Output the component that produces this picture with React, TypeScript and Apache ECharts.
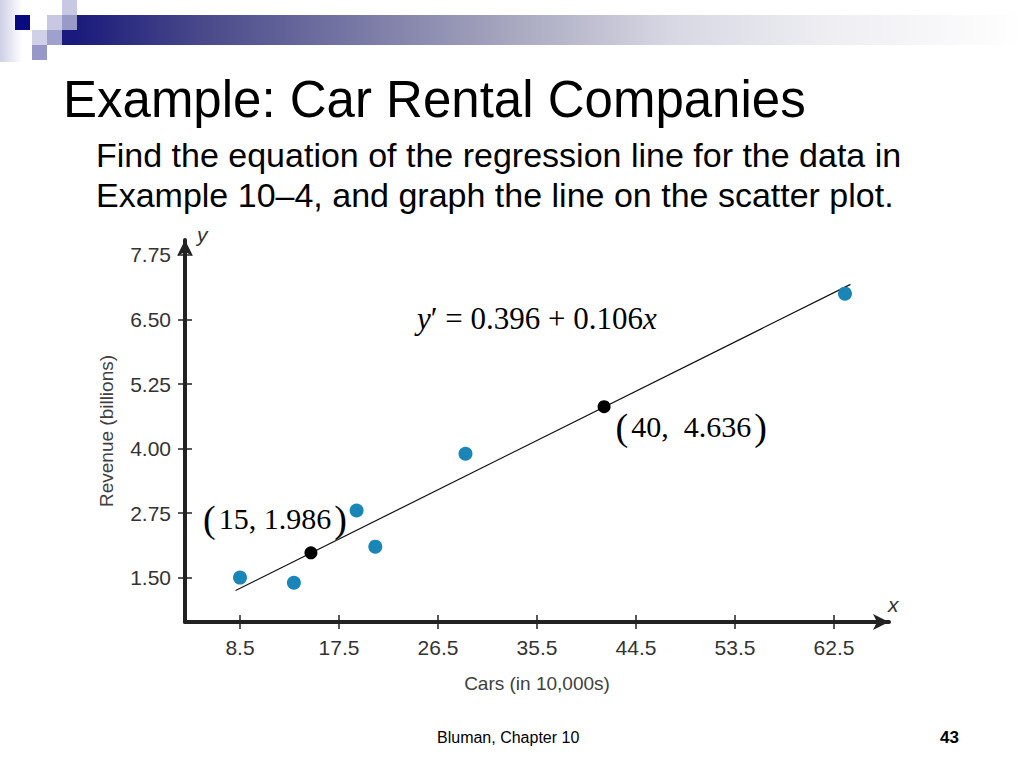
import React, { useEffect, useRef } from "react";
import * as echarts from "echarts";

const cars = [63.5, 29.0, 20.8, 19.1, 13.4, 8.5];
const revenue = [7.0, 3.9, 2.1, 2.8, 1.4, 1.5];
const yTicks = [1.5, 2.75, 4.0, 5.25, 6.5, 7.75];
const xTicks = [8.5, 17.5, 26.5, 35.5, 44.5, 53.5, 62.5];
const lineX = [8.1, 64.0];
const lineY = [1.25, 7.18];
// marked points on the line as drawn, and their printed labels
const keyX = [14.95, 41.6];
const keyY = [1.98, 4.81];
const keyLabels = ["15, 1.986", "40,  4.636"];

const title = "Example: Car Rental Companies";
const subtitle1 = "Find the equation of the regression line for the data in";
const subtitle2 = "Example 10\u20134, and graph the line on the scatter plot.";
const footer = "Bluman, Chapter 10";
const pageNo = "43";

const SANS = "'Liberation Sans', Arial, sans-serif";
const SERIF = "'Liberation Serif', 'Times New Roman', serif";

export default function App() {
  const ref = useRef<HTMLDivElement>(null);
  useEffect(() => {
    if (!ref.current) return;
    const chart = echarts.init(ref.current, null, { renderer: "svg" });
    const axisColor = "#222";
    const tickStyle = { color: axisColor, width: 1.5 };
    const labelStyle = { fontSize: 21, color: "#333", fontFamily: SANS };
    const nameStyle = { fontSize: 19, color: "#404040", fontFamily: SANS };
    const parenRich = {
      p: { fontFamily: SERIF, fontSize: 38, color: "#000" },
      t: { fontFamily: SERIF, fontSize: 30, color: "#000", padding: [0, 3, 0, 3] },
    };
    const keyLabelPos = [
      { position: "inside", offset: [-36, -34] },
      { position: "right", distance: 5, offset: [0, 20] },
    ];

    chart.setOption({
      animation: false,
      backgroundColor: "#fff",
      grid: { left: 185, right: 135, top: 240, bottom: 146, containLabel: false, outerBoundsMode: "none" },
      xAxis: [
        {
          type: "value",
          min: 3.5,
          max: 67.5,
          position: "bottom",
          axisLine: { show: true, onZero: false, lineStyle: { color: axisColor, width: 4 }, symbol: ["none", "arrow"], symbolSize: [12, 16] },
          axisTick: { show: true, customValues: xTicks, length: 7, lineStyle: tickStyle },
          axisLabel: { customValues: xTicks, formatter: (v: number) => v.toFixed(1), margin: 15, ...labelStyle },
          splitLine: { show: false },
          name: "Cars (in 10,000s)",
          nameLocation: "middle",
          nameGap: 52,
          nameTextStyle: nameStyle,
        },
        {
          type: "value",
          min: 3.5,
          max: 67.5,
          position: "bottom",
          axisLine: { show: false, onZero: false },
          axisTick: { show: true, inside: true, customValues: xTicks, length: 7, lineStyle: tickStyle },
          axisLabel: { show: false },
          splitLine: { show: false },
        },
      ],
      yAxis: [
        {
          type: "value",
          min: 0.64,
          max: 8.04,
          position: "left",
          axisLine: { show: true, onZero: false, lineStyle: { color: axisColor, width: 4 }, symbol: ["none", "arrow"], symbolSize: [12, 16] },
          axisTick: { show: true, customValues: yTicks, length: 7, lineStyle: tickStyle },
          axisLabel: { customValues: yTicks, formatter: (v: number) => v.toFixed(2), margin: 14, ...labelStyle },
          splitLine: { show: false },
          name: "Revenue (billions)",
          nameLocation: "middle",
          nameGap: 69,
          nameRotate: 90,
          nameTextStyle: nameStyle,
        },
        {
          type: "value",
          min: 0.64,
          max: 8.04,
          position: "left",
          axisLine: { show: false, onZero: false },
          axisTick: { show: true, inside: true, customValues: yTicks, length: 7, lineStyle: tickStyle },
          axisLabel: { show: false },
          splitLine: { show: false },
        },
      ],
      series: [
        {
          type: "line",
          data: lineX.map((x, i) => [x, lineY[i]]),
          symbol: "none",
          lineStyle: { color: "#111", width: 1.2 },
          z: 2,
        },
        {
          type: "scatter",
          data: cars.map((x, i) => [x, revenue[i]]),
          symbolSize: 14,
          itemStyle: { color: "#1a86b8", opacity: 1 },
          z: 3,
        },
        {
          type: "scatter",
          data: keyX.map((x, i) => ({
            value: [x, keyY[i]],
            label: { show: true, formatter: `{p|(}{t|${keyLabels[i]}}{p|)}`, rich: parenRich, ...keyLabelPos[i] },
          })),
          symbolSize: 13,
          itemStyle: { color: "#000", opacity: 1 },
          z: 4,
        },
      ],
      graphic: [
        {
          type: "rect",
          shape: { x: 0, y: 0, width: 22, height: 62 },
          style: {
            fill: new echarts.graphic.LinearGradient(0, 0, 1, 0, [
              { offset: 0, color: "#cfcfe6" },
              { offset: 1, color: "#ffffff" },
            ]),
          },
          silent: true,
        },
        {
          type: "rect",
          shape: { x: 62, y: 15, width: 962, height: 30 },
          style: {
            fill: new echarts.graphic.LinearGradient(0, 0, 1, 0, [
              { offset: 0, color: "#16167a" },
              { offset: 0.02, color: "#1c1c7c" },
              { offset: 0.143, color: "#48488a" },
              { offset: 0.47, color: "#a8a8c0" },
              { offset: 0.635, color: "#d8d8e4" },
              { offset: 0.8, color: "#eeeef3" },
              { offset: 1, color: "#ffffff" },
            ]),
          },
          silent: true,
        },
        { type: "rect", shape: { x: 62, y: 0, width: 15, height: 15 }, style: { fill: "#c8c8e4" }, silent: true },
        { type: "rect", shape: { x: 15, y: 15, width: 15, height: 15 }, style: { fill: "#0a0a80" }, silent: true },
        { type: "rect", shape: { x: 47, y: 15, width: 15, height: 15 }, style: { fill: "#c8c8e2" }, silent: true },
        { type: "rect", shape: { x: 62, y: 15, width: 15, height: 15 }, style: { fill: "#9a9ac8" }, silent: true },
        { type: "rect", shape: { x: 62, y: 30, width: 15, height: 15 }, style: { fill: "#1a1a7e" }, silent: true },
        { type: "rect", shape: { x: 32, y: 30, width: 15, height: 15 }, style: { fill: "#d0d0e8" }, silent: true },
        { type: "rect", shape: { x: 47, y: 30, width: 15, height: 15 }, style: { fill: "#a0a0cc" }, silent: true },
        { type: "rect", shape: { x: 32, y: 45, width: 15, height: 15 }, style: { fill: "#9898c8" }, silent: true },
        { type: "text", x: 63, y: 74, style: { text: title, fill: "#000", font: `51px ${SANS}`, verticalAlign: "top" }, silent: true },
        { type: "text", x: 96, y: 138, style: { text: subtitle1, fill: "#000", font: `34px ${SANS}`, verticalAlign: "top" }, silent: true },
        { type: "text", x: 96, y: 178, style: { text: subtitle2, fill: "#000", font: `34px ${SANS}`, verticalAlign: "top" }, silent: true },
        { type: "text", x: 197, y: 224, style: { text: "y", fill: "#333", font: `italic 21px ${SANS}`, verticalAlign: "top" }, silent: true },
        { type: "text", x: 888, y: 594, style: { text: "x", fill: "#333", font: `italic 21px ${SANS}`, verticalAlign: "top" }, silent: true },
        {
          type: "text",
          x: 417,
          y: 318,
          style: {
            text: "{i|y}{n|\u2032 = 0.396 + 0.106}{i|x}",
            verticalAlign: "middle",
            rich: {
              i: { fontFamily: SERIF, fontStyle: "italic", fontSize: 31, color: "#000" },
              n: { fontFamily: SERIF, fontSize: 31, color: "#000" },
            },
          },
          silent: true,
        },
        { type: "text", x: 437, y: 737, style: { text: footer, fill: "#000", font: `16px ${SANS}`, verticalAlign: "middle" }, silent: true },
        { type: "text", x: 940, y: 737, style: { text: pageNo, fill: "#000", font: `bold 17px ${SANS}`, verticalAlign: "middle" }, silent: true },
      ],
    });
    return () => chart.dispose();
  }, []);
  return <div ref={ref} style={{ position: "fixed", left: 0, top: 0, width: 1024, height: 768 }} />;
}
